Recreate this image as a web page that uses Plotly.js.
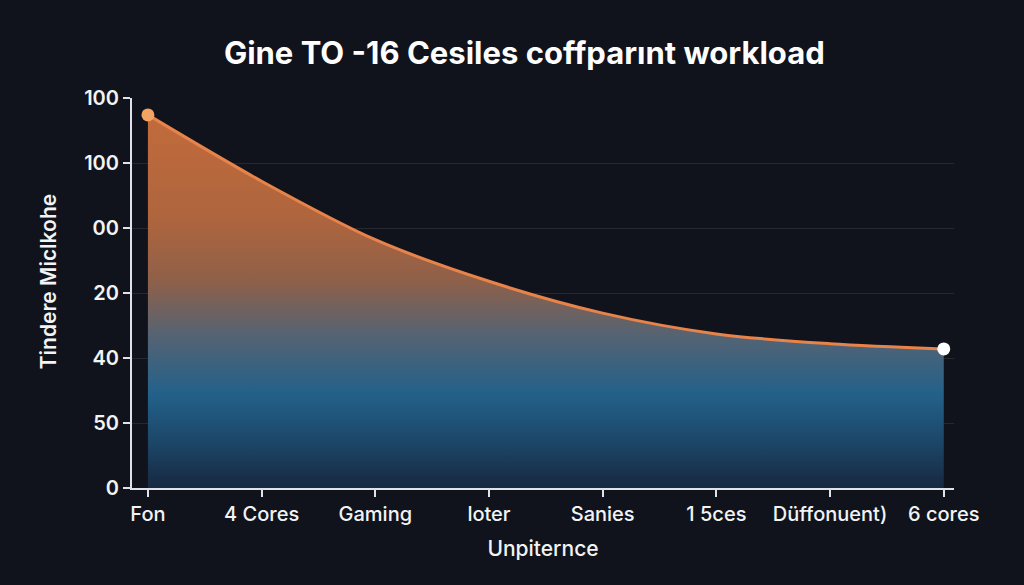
<!DOCTYPE html>
<html>
<head>
<meta charset="utf-8">
<script src="https://cdn.plot.ly/plotly-3.0.1.min.js"></script>
<style>
html,body{margin:0;padding:0;background:#10131b;}
#chart{width:1024px;height:585px;}
</style>
</head>
<body>
<div id="chart"></div>
<script>
var categories = ["Fon", "4 Cores", "Gaming", "loter", "Sanies", "1 5ces", "Düffonuent)", "6 cores"];
var values = [5.74, 4.72, 3.82, 3.18, 2.69, 2.37, 2.22, 2.14];
var yTickVals = [6, 5, 4, 3, 2, 1, 0];
var yTickText = ["100", "100", "00", "20", "40", "50", "0"];
var markerSizes = [13, 0, 0, 0, 0, 0, 0, 13];
var markerColors = ["#f4a462", "#e8834a", "#e8834a", "#e8834a", "#e8834a", "#e8834a", "#e8834a", "#ffffff"];

var FONT = "Inter, 'Noto Sans', sans-serif";

var trace = {
  x: categories,
  y: values,
  type: "scatter",
  mode: "lines+markers",
  line: {color: "#e8834a", width: 3, shape: "spline", smoothing: 0.9},
  marker: {size: markerSizes, color: markerColors, opacity: 1, line: {width: 0}},
  fill: "tozeroy",
  fillgradient: {
    type: "vertical",
    start: 0,
    stop: 5.8,
    colorscale: [
      [0, "#172840"],
      [0.12, "#1c4668"],
      [0.25, "#23618a"],
      [0.4, "#536374"],
      [0.55, "#8f6049"],
      [0.72, "#af653d"],
      [1, "#c26b3c"]
    ]
  },
  hoverinfo: "x+y",
  showlegend: false
};

var layout = {
  width: 1024,
  height: 585,
  paper_bgcolor: "#10131b",
  plot_bgcolor: "#10131b",
  margin: {l: 132, r: 70, t: 98, b: 97},
  title: {
    text: "Gine TO -16 Cesiles coffparınt workload",
    font: {family: FONT, size: 31, color: "#ffffff", weight: 700},
    x: 0.512, xanchor: "center", y: 0.91, yanchor: "middle"
  },
  xaxis: {
    type: "category",
    range: [-0.14, 7.09],
    showline: true, linecolor: "#dfe2e8", linewidth: 2,
    ticks: "outside", ticklen: 7, tickwidth: 2, tickcolor: "#dfe2e8",
    showgrid: false, zeroline: false,
    tickfont: {family: FONT, size: 20, color: "#f2f3f5", weight: 500},
    title: {text: "Unpiternce", font: {family: FONT, size: 21, color: "#f2f3f5", weight: 500}, standoff: 16}
  },
  yaxis: {
    range: [0, 6],
    tickvals: yTickVals,
    ticktext: yTickText,
    showline: true, linecolor: "#dfe2e8", linewidth: 2,
    ticks: "outside", ticklen: 7, tickwidth: 2, tickcolor: "#dfe2e8",
    showgrid: true, gridcolor: "rgba(255,255,255,0.09)", gridwidth: 1,
    zeroline: false,
    tickfont: {family: FONT, size: 20, color: "#f2f3f5", weight: 600}
  },
  annotations: [{
    text: "Tindere Miclkohe",
    xref: "paper", yref: "paper",
    x: -0.1022, y: 0.53,
    xanchor: "center", yanchor: "middle",
    textangle: -90, showarrow: false,
    font: {family: FONT, size: 21, color: "#f2f3f5", weight: 600}
  }]
};

Plotly.newPlot("chart", [trace], layout, {displayModeBar: false, staticPlot: true});
</script>
</body>
</html>
